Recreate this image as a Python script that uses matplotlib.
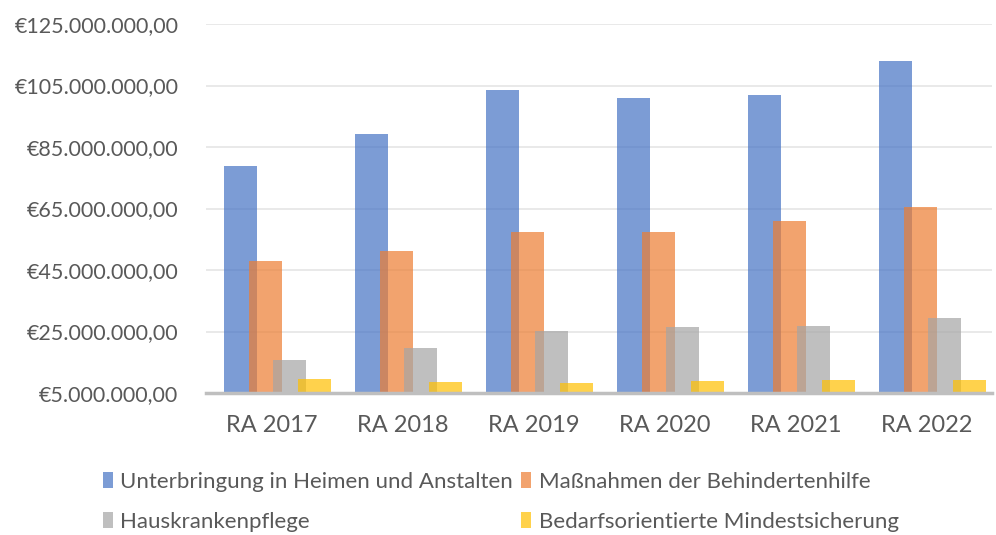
import numpy as np
import matplotlib
matplotlib.use("Agg")
import matplotlib.pyplot as plt
from matplotlib.ticker import FuncFormatter

jahre = ["RA 2017", "RA 2018", "RA 2019", "RA 2020", "RA 2021", "RA 2022"]
heime = [78.8e6, 89.2e6, 103.5e6, 100.9e6, 101.9e6, 113.0e6]
behindertenhilfe = [47.9e6, 51.2e6, 57.4e6, 57.4e6, 60.9e6, 65.4e6]
hauskrankenpflege = [15.7e6, 19.6e6, 25.2e6, 26.5e6, 26.8e6, 29.4e6]
mindestsicherung = [9.5e6, 8.6e6, 8.3e6, 8.9e6, 9.2e6, 9.2e6]

serien = [
    ("Unterbringung in Heimen und Anstalten", heime, "#4472C4"),
    ("Maßnahmen der Behindertenhilfe", behindertenhilfe, "#ED7D31"),
    ("Hauskrankenpflege", hauskrankenpflege, "#A5A5A5"),
    ("Bedarfsorientierte Mindestsicherung", mindestsicherung, "#FFC000"),
]

plt.rcParams["font.family"] = ["Lato", "DejaVu Sans"]
textfarbe = "#595959"

fig = plt.figure(figsize=(9.96, 5.35), dpi=100)
ax = fig.add_axes([0.207, 0.2654, 0.789, 0.6896])

x = np.arange(len(jahre))
breite = 0.25
schritt = 0.187
balken = []
for i, (name, werte, farbe) in enumerate(serien):
    b = ax.bar(x + 0.045 + (i - 1.5) * schritt, werte, breite, color=farbe, alpha=0.7,
               label=name, zorder=2)
    balken.append(b)

ax.set_xlim(-0.5, len(jahre) - 0.5)
ax.set_ylim(5e6, 125e6)
ax.set_yticks(np.arange(5e6, 125e6 + 1, 20e6))
ax.yaxis.set_major_formatter(FuncFormatter(
    lambda v, p: "€" + f"{v:,.2f}".replace(",", "X").replace(".", ",").replace("X", ".")))
ax.set_xticks(x)
ax.set_xticklabels(jahre)
ax.tick_params(axis="y", length=0, labelsize=15.5, labelcolor=textfarbe, pad=20)
ax.tick_params(axis="x", length=0, labelsize=17, labelcolor=textfarbe, pad=16)
ax.grid(axis="y", color="#E5E5E5", linewidth=1.2, zorder=0)
for s in ["top", "right", "left"]:
    ax.spines[s].set_visible(False)
ax.spines["bottom"].set_color("#BFBFBF")
ax.spines["bottom"].set_linewidth(2.5)
ax.spines["bottom"].set_zorder(3)

# zeilenweise Reihenfolge wie in Excel
reihenfolge = [0, 2, 1, 3]
leg = fig.legend([balken[i] for i in reihenfolge], [serien[i][0] for i in reihenfolge],
                 loc="upper left", bbox_to_anchor=(0.103, 0.118), ncol=2, frameon=False,
                 fontsize=16, handlelength=0.45, handleheight=0.7, handletextpad=0.35,
                 columnspacing=0.35, labelspacing=0.9, borderpad=0, borderaxespad=0)
for t in leg.get_texts():
    t.set_color(textfarbe)

fig.savefig("out.png", dpi=100)
